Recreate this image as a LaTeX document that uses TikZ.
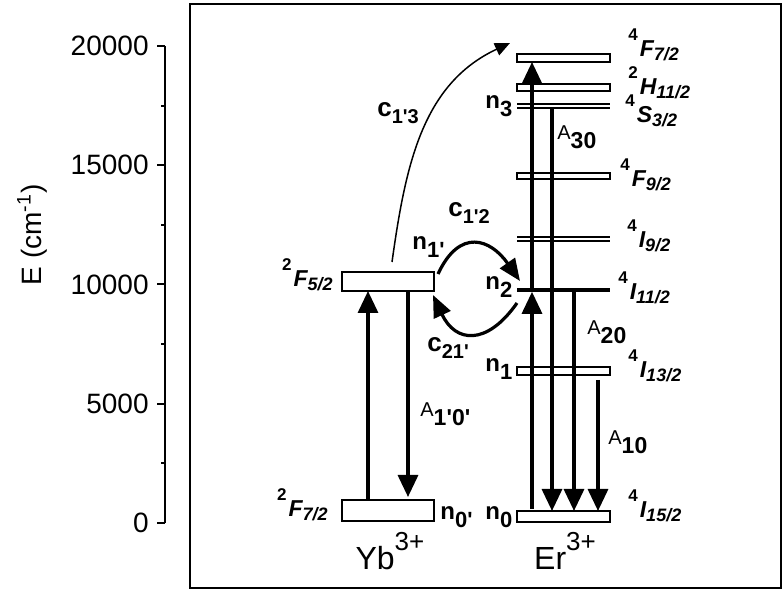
\documentclass[tikz,border=0pt]{standalone}
\usepackage{fontspec}
\setmainfont{Liberation Sans}[Ligatures=TeXOff]
\usetikzlibrary{positioning, arrows.meta, calc}

% term symbol: multiplicity, letter, J
\newcommand{\term}[3]{\raisebox{8pt}{\fontsize{8.5}{8.5}\selectfont\bfseries #1}\kern1pt{\fontsize{11.5}{11.5}\selectfont\bfseries\itshape #2}\raisebox{-2pt}{\fontsize{9}{9}\selectfont\bfseries\itshape #3}}
\newcommand{\pop}[1]{{\fontsize{12}{12}\selectfont\bfseries n\raisebox{-4pt}{\fontsize{11}{11}\selectfont #1}}}
\newcommand{\rate}[1]{{\fontsize{13}{13}\selectfont\bfseries c\raisebox{-3.5pt}{\fontsize{10}{10}\selectfont #1}}}
\newcommand{\einst}[1]{{\fontsize{10}{10}\selectfont A\raisebox{-4.5pt}{\fontsize{11.5}{11.5}\selectfont\bfseries #1}}}
\newcommand{\ionlab}[2]{{\fontsize{16}{16}\selectfont #1\raisebox{9.5pt}{\fontsize{13}{13}\selectfont #2}}}

\begin{document}
\begin{tikzpicture}[x=0.5pt, y=0.5pt,
  every node/.style={inner sep=0pt},
  lvl/.style={draw, line width=0.9pt, minimum width=46.5pt, outer sep=0pt},
  dbl/.style={minimum width=46.5pt, minimum height=2pt, outer sep=0pt},
  bar/.style={fill, minimum width=46.5pt, minimum height=1.8pt, outer sep=0pt},
  lvlline/.style={line width=0.9pt},
  radarrow/.style={-{Triangle[length=11pt,width=10pt]}, line width=1.6pt},
  xfer/.style={-{Triangle[length=11pt,width=9pt]}, line width=1.6pt},
  upconv/.style={-{Triangle[length=7.5pt,width=6.5pt]}, line width=0.75pt},
  axis/.style={line width=1pt},
  lbl/.style={anchor=base west}
]
\useasboundingbox (0,0) rectangle (784,590);

% frame
\draw[line width=1.25pt] (190,2) rectangle (781,586);

% energy axis (1000 cm^-1 = 23.85 units)
\draw[axis] (165,67) -- (165,544);
\foreach \k/\lab in {0/0,5/5000,10/10000,15/15000,20/20000} {
  \draw[axis] (165,67+\k*23.85) -- ++(-8,0);
  \node[anchor=east, font=\fontsize{14}{14}\selectfont] (tk\k) at (149,67+\k*23.85) {\lab};
}
\foreach \k in {2.5,7.5,12.5,17.5}
  \draw[axis] (165,67+\k*23.85) -- ++(-4,0);
\node[rotate=90, font=\fontsize{14}{14}\selectfont] (etitle) at (32,355) {E (cm\textsuperscript{-1})};

% Yb levels
\node[lvl, minimum width=46pt, minimum height=10.5pt] (ybgnd) at (388,79.5) {};
\node[lvl, minimum width=46pt, minimum height=9.5pt] (ybexc) at (388,308.5) {};

% Er levels
\node[lvl, minimum height=5.5pt] (erI15) at (563.5,73.5) {};
\node[lvl, minimum height=4pt] (erI13) at (563.5,219) {};
\node[bar] (erI11) at (563.5,300) {};
\node[dbl] (erI9) at (563.5,351) {};
\node[lvl, minimum height=3.3pt] (erF9) at (563.5,414) {};
\node[dbl] (erS3) at (563.5,483.7) {};
\node[lvl, minimum height=3.5pt] (erH11) at (563.5,502.5) {};
\node[lvl, minimum height=4pt] (erF7) at (563.5,532) {};
\draw[lvlline] (erI9.north west) -- (erI9.north east) (erI9.south west) -- (erI9.south east);
\draw[lvlline] (erS3.north west) -- (erS3.north east) (erS3.south west) -- (erS3.south east);

% term labels
\node[anchor=base east] (tF52) at (333,303) {\term{2}{F}{5/2}};
\node[anchor=base east] (tF72) at (328,73) {\term{2}{F}{7/2}};
\node[lbl] (tF7) at (628,533) {\term{4}{F}{7/2}};
\node[lbl] (tH11) at (628,495) {\term{2}{H}{11/2}};
\node[lbl] (tS3) at (625,467) {\term{4}{S}{3/2}};
\node[lbl] (tF9) at (620,403) {\term{4}{F}{9/2}};
\node[lbl] (tI9) at (627,342) {\term{4}{I}{9/2}};
\node[lbl] (tI11) at (618,290) {\term{4}{I}{11/2}};
\node[lbl] (tI13) at (628,212) {\term{4}{I}{13/2}};
\node[lbl] (tI15) at (628,72) {\term{4}{I}{15/2}};

% populations
\node[lbl] (n0p) at (440,70) {\pop{0'}};
\node[lbl] (n1p) at (412,340) {\pop{1'}};
\node[lbl] (n0) at (485,70) {\pop{0}};
\node[lbl] (n1) at (485,218) {\pop{1}};
\node[lbl] (n2) at (485,300) {\pop{2}};
\node[lbl] (n3) at (485,481) {\pop{3}};

% ions
\node[anchor=base] (yb) at (390,20) {\ionlab{Yb}{3+}};
\node[anchor=base] (er) at (565,20) {\ionlab{Er}{3+}};

% radiative columns
\coordinate (ybup) at (368,0);
\coordinate (ybdn) at (408,0);
\coordinate (erup) at (532,0);
\coordinate (a30) at (552,0);
\coordinate (a20) at (574,0);
\coordinate (a10) at (598,0);

% Yb pump and decay
\draw[radarrow] (ybgnd.north -| ybup) -- (ybexc.south -| ybup);
\draw[radarrow] (ybexc.south -| ybdn) -- ($(ybgnd.north -| ybdn)+(0,3)$);
\node[lbl] (a10p) at (420,173) {\einst{1'0'}};

% Er excitation
\draw[radarrow] ($(erI15.north -| erup)+(0,2)$) -- (erI11.south -| erup);
\draw[radarrow] (erI11.center -| erup) -- (erF7.south -| erup);

% Er decays
\draw[radarrow] (erS3.south -| a30) -- (erI15.north -| a30);
\draw[radarrow] (erI11.center -| a20) -- (erI15.north -| a20);
\draw[radarrow] ($(erI13.south -| a10)+(0,-5)$) -- (erI15.north -| a10);
\node[lbl] (l30) at (557,450) {\einst{30}};
\node[lbl] (l20) at (587,255) {\einst{20}};
\node[lbl] (l10) at (608,145) {\einst{10}};

% energy transfer
\draw[xfer] ($(ybexc.north east)+(4,-2)$) to[out=65,in=125,looseness=1.6] ($(erI11.west)+(3,9)$);
\draw[xfer] ($(erI11.west)+(0,-13)$) to[out=-125,in=-65,looseness=1.6] ($(ybexc.south east)+(-1,-4)$);
\draw[upconv] ($(ybexc.north)+(4,10)$) to[out=82,in=205] ($(erF7.north west)+(-7,11)$);
\node[lbl] (c13) at (377,473) {\rate{1'3}};
\node[lbl] (c12) at (448,373) {\rate{1'2}};
\node[lbl] (c21) at (427,238) {\rate{21'}};

\end{tikzpicture}
\end{document}
